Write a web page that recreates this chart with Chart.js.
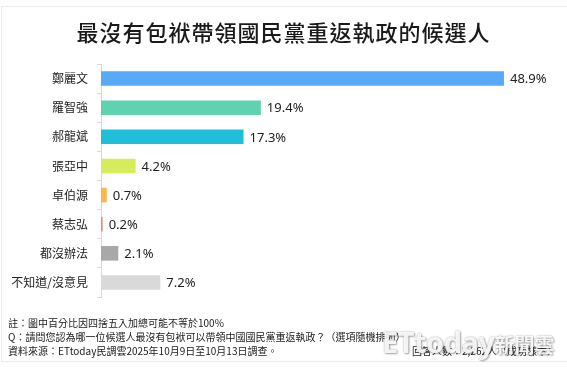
<!DOCTYPE html>
<html>
<head>
<meta charset="utf-8">
<script src="https://cdn.jsdelivr.net/npm/chart.js@4/dist/chart.umd.min.js"></script>
<style>
  html, body { margin: 0; padding: 0; background: #fff; }
  body { width: 567px; height: 367px; position: relative; overflow: hidden;
         font-family: "Noto Sans CJK TC", "Noto Sans", sans-serif; }
  #frame { position: absolute; left: 1px; top: 6px; width: 566px; height: 356px;
           border: 1px solid #ececec; border-right: none; box-sizing: border-box; }
  #title { position: absolute; left: 0; width: 567px; top: 16px; text-align: center;
           font-size: 22px; font-weight: 500; color: #1a1a1a; letter-spacing: 1px; line-height: 30px; }
  #chart { position: absolute; left: 0; top: 0; }
  .note { position: absolute; left: 8px; font-size: 10px; color: #222; line-height: 12px; white-space: nowrap; }
  #n4 { left: auto; right: 10px; }
  #wm { position: absolute; left: 382px; top: 325px; font-family: "Noto Sans", sans-serif;
        font-size: 29px; font-weight: 700; color: rgba(255,255,255,0.9); letter-spacing: -0.5px;
        text-shadow: 0 0 2px rgba(0,0,0,0.35), 1px 1px 2px rgba(0,0,0,0.3); line-height: 34px; white-space: nowrap; }
  #wm span { font-family: "Noto Sans CJK TC", sans-serif; font-size: 20px; font-weight: 700; letter-spacing: 0; }
</style>
</head>
<body>
<div id="frame"></div>
<canvas id="chart" width="567" height="367"></canvas>
<div id="title">最沒有包袱帶領國民黨重返執政的候選人</div>
<div class="note" style="top:317px">註：圖中百分比因四捨五入加總可能不等於100%</div>
<div class="note" style="top:331px">Q：請問您認為哪一位候選人最沒有包袱可以帶領中國國民黨重返執政？（選項隨機排列）</div>
<div class="note" style="top:345px">資料來源：ETtoday民調雲2025年10月9日至10月13日調查。</div>
<div class="note" id="n4" style="top:345px">回答人數：2,262人（成功樣本）</div>
<div id="wm">ETtoday<span>新聞雲</span></div>
<script>
const categories = ["鄭麗文", "羅智強", "郝龍斌", "張亞中", "卓伯源", "蔡志弘", "都沒辦法", "不知道/沒意見"];
const values = [48.9, 19.4, 17.3, 4.2, 0.7, 0.2, 2.1, 7.2];
const barColors = ["#58a9f9", "#5fd3b0", "#20bfd9", "#d6ec5b", "#ffb54a", "#f4847a", "#a8a8a8", "#d9d9d9"];

const valueLabels = {
  id: "valueLabels",
  afterDatasetsDraw(chart) {
    const ctx = chart.ctx;
    const meta = chart.getDatasetMeta(0);
    ctx.save();
    ctx.font = '13px "Noto Sans", sans-serif';
    ctx.fillStyle = "#222";
    ctx.textAlign = "left";
    ctx.textBaseline = "middle";
    meta.data.forEach((bar, i) => {
      ctx.fillText(values[i].toFixed(1) + "%", bar.x + 6, bar.y + 1);
    });
    ctx.restore();
  }
};

new Chart(document.getElementById("chart"), {
  type: "bar",
  data: {
    labels: categories,
    datasets: [{
      data: values,
      backgroundColor: barColors,
      borderWidth: 0,
      categoryPercentage: 1.0,
      barPercentage: 0.5
    }]
  },
  options: {
    indexAxis: "y",
    responsive: false,
    animation: false,
    devicePixelRatio: 1,
    layout: { padding: { top: 64, bottom: 70, left: 0, right: 7 } },
    plugins: { legend: { display: false }, tooltip: { enabled: false } },
    scales: {
      x: { display: false, min: 0, max: 55.7 },
      y: {
        afterFit(scale) { scale.width = 101; },
        grid: { offset: true, drawOnChartArea: false, drawTicks: true, tickLength: 4, color: "#d9d9d9" },
        border: { color: "#d9d9d9", width: 1 },
        ticks: { padding: 9, color: "#222", font: { size: 12, family: '"Noto Sans CJK TC", sans-serif' } }
      }
    }
  },
  plugins: [valueLabels]
});
</script>
</body>
</html>
